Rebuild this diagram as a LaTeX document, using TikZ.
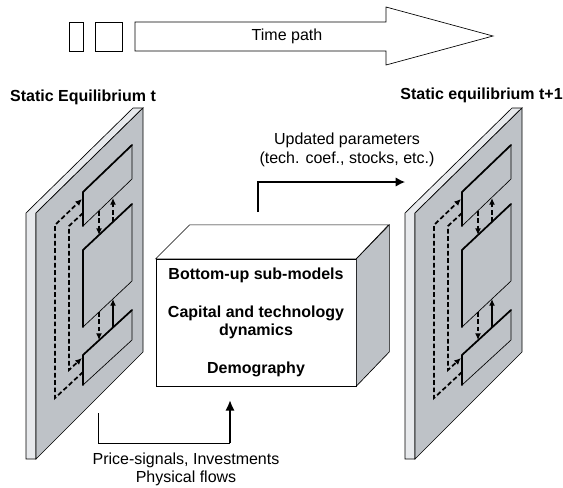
\documentclass[tikz,border=0pt]{standalone}
\usepackage{fontspec}
\setmainfont{Liberation Sans}
\usetikzlibrary{arrows.meta,positioning,calc}

\definecolor{panelgray}{RGB}{190,194,199}
\definecolor{edgegray}{RGB}{231,233,236}

\tikzset{
  lbl/.style={font=\fontsize{12}{14}\selectfont, inner sep=0pt, align=center},
  ttl/.style={font=\fontsize{12}{14}\selectfont\bfseries, inner sep=0pt},
  plate/.style={draw, fill=panelgray, line width=0.5pt},
  plateedge/.style={line width=1.3pt, line cap=round},
  loopline/.style={line width=1.3pt, dash pattern=on 3.5pt off 2pt, -{Latex[length=5pt,width=4.5pt]}},
  flowline/.style={line width=1.3pt, -{Latex[length=5pt,width=4.5pt]}},
  eqpanel/.pic={
    % slab edge and front face
    \draw[fill=edgegray, line width=0.5pt] (26,213) -- (133,108) -- (143,108) -- (36,213) -- (36,459) -- (26,459) -- cycle;
    \draw[fill=panelgray, line width=0.5pt] (36,213) -- (143,108) -- (143,352) -- (36,459) -- cycle;
    % plates
    \foreach \ytl/\ytr/\h in {192/145/34, 250/204/77, 355/310/30} {
      \draw[plate] (83,\ytl) -- (132,\ytr) -- (132,\ytr+\h) -- (83,\ytl+\h) -- cycle;
      \draw[plateedge] (83,\ytl+\h) -- (83,\ytl) -- (132,\ytr);
    }
    % exchanges between plates
    \draw[loopline] (99,211) -- (99,235);
    \draw[loopline] (113,222) -- (113,198);
    \draw[loopline] (99,312) -- (99,340);
    \draw[flowline] (113,327) -- (113,299);
    \draw[loopline] (83,372) -- (55,398) -- (55,225) -- (82,199);
    \draw[loopline] (83,213) -- (69,226) -- (69,370) -- (82,358);
  }
}

\begin{document}
\begin{tikzpicture}[x=0.75pt, y=-0.75pt]
    \useasboundingbox (0,0) rectangle (563,487);

    % Time path
    \draw[line width=0.5pt] (69,22) rectangle (83,51);
    \draw[line width=0.5pt] (95,22) rectangle (122,51);
    \draw[line width=0.5pt, fill=white] (135,22) -- (386,22) -- (386,7) -- (493,36) -- (386,65) -- (386,51) -- (135,51) -- cycle;
    \node[lbl] (tpath) at (287,36) {Time path};

    % Static equilibria
    \pic at (0,0) {eqpanel};
    \pic at (379,0) {eqpanel};
    \node[ttl] (eqt) at (83,97) {Static Equilibrium t};
    \node[ttl, anchor=east] (eqtnext) at (563,95) {Static equilibrium t+1};

    % Sub-models box
    \node[draw, fill=white, line width=0.5pt, minimum width=150pt, minimum height=95pt,
          inner sep=0pt, align=center, font=\fontsize{12}{13.5}\selectfont\bfseries]
          (submod) at (256,322.5) {Bottom-up sub-models\\[15pt]Capital and technology\\dynamics\\[15pt]Demography};
    \draw[fill=white, line width=0.5pt] (submod.north west) -- ++(34,-34) -- ++(199,0) -- (submod.north east) -- cycle;
    \draw[fill=panelgray, line width=0.5pt] (submod.north east) -- ++(33,-34) -- ++(0,127) -- (submod.south east) -- cycle;

    % Updated parameters
    \coordinate (updfrom) at (258,212);
    \coordinate (updto) at (405,182);
    \draw[line width=1pt, -{Latex[length=7pt,width=7pt]}] (updfrom) |- (updto);
    \node[lbl] (updlbl) at (347,150) {Updated parameters\\(tech. coef., stocks, etc.)};

    % Price signals
    \coordinate (pricefrom) at (98,413);
    \coordinate (pricecorner) at (230,443);
    \coordinate (pricetip) at (230,400);
    \draw[line width=0.75pt] (pricefrom) |- (pricecorner);
    \draw[line width=1.5pt, -{Latex[length=8pt,width=7pt]}] (pricecorner) -- (pricetip);
    \node[lbl, font=\fontsize{12}{13.5}\selectfont] (pricelbl) at (186,469) {Price-signals, Investments\\Physical flows};
\end{tikzpicture}
\end{document}
